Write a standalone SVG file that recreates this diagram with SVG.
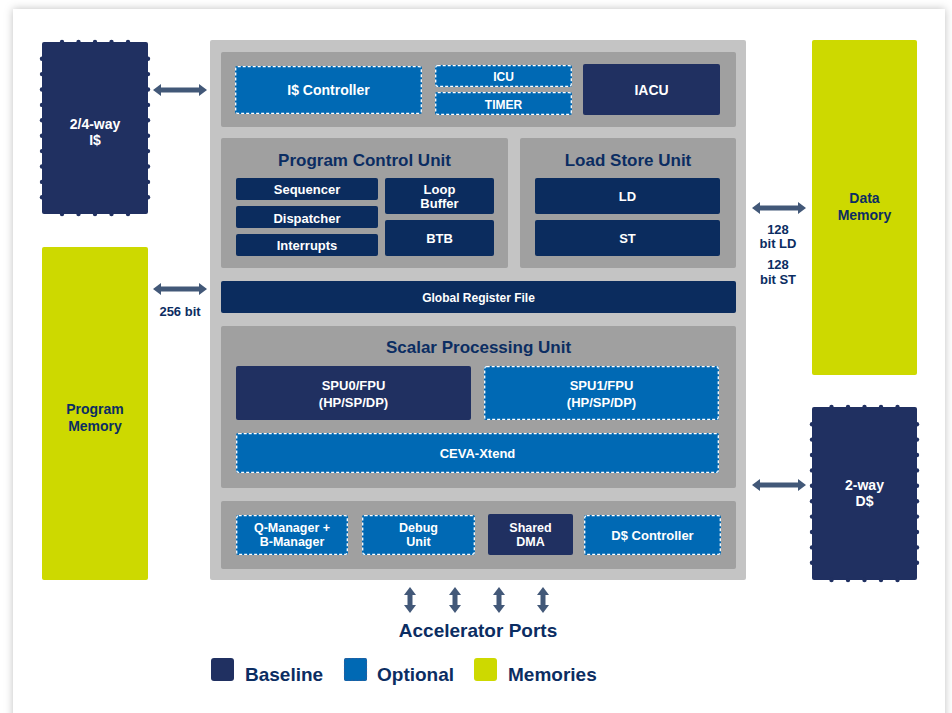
<svg xmlns="http://www.w3.org/2000/svg" xmlns:xlink="http://www.w3.org/1999/xlink" width="952" height="713" viewBox="0 0 952 713">
<style>
.t{font-family:"Liberation Sans",Arial,sans-serif;font-weight:bold;text-anchor:middle}
.w{fill:#ffffff;font-size:13px}
.s{font-size:12.5px}
.h{fill:#0b2d62;font-size:17px}
.lb{fill:#0b2d62;font-size:13px}
.lg{fill:#0b2d62;font-size:19px;text-anchor:start}
.base{fill:#203061}
.navy{fill:#0b2c5e}
.opt{fill:#0069b4}
.dash{fill:none;stroke:#ffffff;stroke-width:1.3;stroke-dasharray:3 2}
.mem{fill:#cdd900}
.outer{fill:#c4c4c4}
.inner{fill:#a0a0a0}
.arr{fill:#425878}
</style>
<defs>
<filter id="sh" x="-5%" y="-5%" width="110%" height="110%">
<feDropShadow dx="0" dy="0" stdDeviation="4" flood-color="#000" flood-opacity="0.25"/>
</filter>
<polygon id="ha" points="-27,0 -19,-6 -19,-2.5 19,-2.5 19,-6 27,0 19,6 19,2.5 -19,2.5 -19,6"/>
<polygon id="va" points="0,-13 6,-5 2.5,-5 2.5,5 6,5 0,13 -6,5 -2.5,5 -2.5,-5 -6,-5"/>
<g id="bumpsH">
<circle cx="-33" cy="0" r="2.2"/><circle cx="-16.5" cy="0" r="2.2"/><circle cx="0" cy="0" r="2.2"/><circle cx="16.5" cy="0" r="2.2"/><circle cx="33" cy="0" r="2.2"/>
</g>
<g id="bumpsV">
<circle cx="0" cy="-69.3" r="2.2"/><circle cx="0" cy="-53.9" r="2.2"/><circle cx="0" cy="-38.5" r="2.2"/><circle cx="0" cy="-23.1" r="2.2"/><circle cx="0" cy="-7.7" r="2.2"/><circle cx="0" cy="7.7" r="2.2"/><circle cx="0" cy="23.1" r="2.2"/><circle cx="0" cy="38.5" r="2.2"/><circle cx="0" cy="53.9" r="2.2"/><circle cx="0" cy="69.3" r="2.2"/>
</g>
</defs>
<rect x="0" y="0" width="952" height="713" fill="#ffffff"/>
<rect x="13" y="9" width="932" height="720" fill="#ffffff" filter="url(#sh)"/>

<g id="icache">
<rect class="base" x="42" y="42" width="106" height="172" rx="2"/>
<g class="base">
<use xlink:href="#bumpsH" x="95" y="42"/><use xlink:href="#bumpsH" x="95" y="214"/>
<use xlink:href="#bumpsV" x="42" y="128"/><use xlink:href="#bumpsV" x="148" y="128"/>
</g>
<text class="t w" x="95" y="129" style="font-size:14px">2/4-way</text>
<text class="t w" x="95" y="145" style="font-size:14px">I$</text>
</g>

<g id="program-memory">
<rect class="mem" x="42" y="247" width="106" height="333" rx="2"/>
<text class="t lb" x="95" y="414" style="font-size:14px">Program</text>
<text class="t lb" x="95" y="431" style="font-size:14px">Memory</text>
</g>

<g id="data-memory">
<rect class="mem" x="812" y="40" width="105" height="335" rx="2"/>
<text class="t lb" x="864.5" y="203" style="font-size:14px">Data</text>
<text class="t lb" x="864.5" y="220" style="font-size:14px">Memory</text>
</g>

<g id="dcache">
<rect class="base" x="812" y="407" width="105" height="173" rx="2"/>
<g class="base">
<use xlink:href="#bumpsH" x="864.5" y="407"/><use xlink:href="#bumpsH" x="864.5" y="580"/>
<use xlink:href="#bumpsV" x="812" y="493.5"/><use xlink:href="#bumpsV" x="917" y="493.5"/>
</g>
<text class="t w" x="864.5" y="490" style="font-size:14px">2-way</text>
<text class="t w" x="864.5" y="506" style="font-size:14px">D$</text>
</g>

<g id="core">
<rect class="outer" x="210" y="40" width="536" height="540" rx="2"/>
</g>

<g id="top-bar">
<rect class="inner" x="221" y="52" width="515" height="75" rx="2"/>
</g>
<g id="icache-controller">
<rect class="opt" x="235" y="66" width="187" height="48" rx="2"/>
<rect class="dash" x="235.7" y="66.7" width="185.6" height="46.6" rx="2"/>
<text class="t w" x="328.5" y="95" style="font-size:14px">I$ Controller</text>
</g>
<g id="icu">
<rect class="opt" x="435" y="65" width="137" height="22" rx="2"/>
<rect class="dash" x="435.7" y="65.7" width="135.6" height="20.6" rx="2"/>
<text class="t w" x="503.5" y="81" style="font-size:12px">ICU</text>
</g>
<g id="timer">
<rect class="opt" x="435" y="92" width="137" height="23" rx="2"/>
<rect class="dash" x="435.7" y="92.7" width="135.6" height="21.6" rx="2"/>
<text class="t w" x="503.5" y="108.5" style="font-size:12px">TIMER</text>
</g>
<g id="iacu">
<rect class="base" x="583" y="64" width="137" height="51" rx="2"/>
<text class="t w" x="651.5" y="95" style="font-size:14px">IACU</text>
</g>

<g id="program-control-unit">
<rect class="inner" x="221" y="138" width="287" height="130" rx="2"/>
<text class="t h" x="364.5" y="166">Program Control Unit</text>
</g>
<g id="sequencer">
<rect class="navy" x="236" y="178" width="142" height="22" rx="2"/>
<text class="t w" x="307" y="194">Sequencer</text>
</g>
<g id="dispatcher">
<rect class="navy" x="236" y="206" width="142" height="22" rx="2"/>
<text class="t w" x="307" y="222.5">Dispatcher</text>
</g>
<g id="interrupts">
<rect class="navy" x="236" y="234" width="142" height="22" rx="2"/>
<text class="t w" x="307" y="249.5">Interrupts</text>
</g>
<g id="loop-buffer">
<rect class="navy" x="385" y="178" width="109" height="36" rx="2"/>
<text class="t w" x="439.5" y="194">Loop</text>
<text class="t w" x="439.5" y="208">Buffer</text>
</g>
<g id="btb">
<rect class="navy" x="385" y="220" width="109" height="36" rx="2"/>
<text class="t w" x="439.5" y="242.5">BTB</text>
</g>

<g id="load-store-unit">
<rect class="inner" x="520" y="138" width="216" height="130" rx="2"/>
<text class="t h" x="628" y="166">Load Store Unit</text>
</g>
<g id="ld">
<rect class="navy" x="535" y="178" width="185" height="36" rx="2"/>
<text class="t w" x="627.5" y="201">LD</text>
</g>
<g id="st">
<rect class="navy" x="535" y="220" width="185" height="36" rx="2"/>
<text class="t w" x="627.5" y="243">ST</text>
</g>

<g id="global-register-file">
<rect class="navy" x="221" y="281" width="515" height="32" rx="2"/>
<text class="t w" x="478.5" y="301.5" style="font-size:12px">Global Register File</text>
</g>

<g id="scalar-processing-unit">
<rect class="inner" x="221" y="326" width="515" height="162" rx="2"/>
<text class="t h" x="478.5" y="353">Scalar Processing Unit</text>
</g>
<g id="spu0">
<rect class="base" x="236" y="366" width="235" height="54" rx="2"/>
<text class="t w" x="353.5" y="390">SPU0/FPU</text>
<text class="t w" x="353.5" y="407">(HP/SP/DP)</text>
</g>
<g id="spu1">
<rect class="opt" x="484" y="366" width="235" height="54" rx="2"/>
<rect class="dash" x="484.7" y="366.7" width="233.6" height="52.6" rx="2"/>
<text class="t w" x="601.5" y="390">SPU1/FPU</text>
<text class="t w" x="601.5" y="407">(HP/SP/DP)</text>
</g>
<g id="ceva-xtend">
<rect class="opt" x="236" y="433" width="483" height="40" rx="2"/>
<rect class="dash" x="236.7" y="433.7" width="481.6" height="38.6" rx="2"/>
<text class="t w" x="477.5" y="457.5">CEVA-Xtend</text>
</g>

<g id="bottom-bar">
<rect class="inner" x="221" y="501" width="515" height="68" rx="2"/>
</g>
<g id="q-manager">
<rect class="opt" x="236" y="515" width="112" height="40" rx="2"/>
<rect class="dash" x="236.7" y="515.7" width="110.6" height="38.6" rx="2"/>
<text class="t w s" x="292" y="531.5">Q-Manager +</text>
<text class="t w s" x="292" y="545.5">B-Manager</text>
</g>
<g id="debug-unit">
<rect class="opt" x="362" y="515" width="113" height="40" rx="2"/>
<rect class="dash" x="362.7" y="515.7" width="111.6" height="38.6" rx="2"/>
<text class="t w s" x="418.5" y="531.5">Debug</text>
<text class="t w s" x="418.5" y="545.5">Unit</text>
</g>
<g id="shared-dma">
<rect class="base" x="488" y="514" width="85" height="41" rx="2"/>
<text class="t w s" x="530.5" y="531.5">Shared</text>
<text class="t w s" x="530.5" y="545.5">DMA</text>
</g>
<g id="dcache-controller">
<rect class="opt" x="584" y="515" width="137" height="40" rx="2"/>
<rect class="dash" x="584.7" y="515.7" width="135.6" height="38.6" rx="2"/>
<text class="t w" x="652.5" y="539.5">D$ Controller</text>
</g>

<g id="connectors" class="arr">
<use xlink:href="#ha" x="180" y="90"/>
<use xlink:href="#ha" x="180" y="289"/>
<use xlink:href="#ha" x="779" y="208"/>
<use xlink:href="#ha" x="779" y="485"/>
<use xlink:href="#va" x="410" y="600"/>
<use xlink:href="#va" x="455" y="600"/>
<use xlink:href="#va" x="499" y="600"/>
<use xlink:href="#va" x="543" y="600"/>
</g>

<g id="labels">
<text class="t lb" x="180" y="316">256 bit</text>
<text class="t lb" x="778" y="234">128</text>
<text class="t lb" x="778" y="248">bit LD</text>
<text class="t lb" x="778" y="269">128</text>
<text class="t lb" x="778" y="284">bit ST</text>
<text class="t h" x="478" y="637" style="font-size:19px">Accelerator Ports</text>
</g>

<g id="legend">
<rect class="base" x="211" y="658" width="23" height="23" rx="3"/>
<text class="t lg" x="245" y="681">Baseline</text>
<rect class="opt" x="344" y="658" width="23" height="23" rx="2"/>
<rect class="dash" x="344.6" y="658.6" width="21.8" height="21.8" rx="2" style="stroke:#2a5e9c;stroke-dasharray:2 1.5"/>
<text class="t lg" x="377" y="681">Optional</text>
<rect class="mem" x="474" y="658" width="23" height="23" rx="3"/>
<text class="t lg" x="508" y="681">Memories</text>
</g>
</svg>
